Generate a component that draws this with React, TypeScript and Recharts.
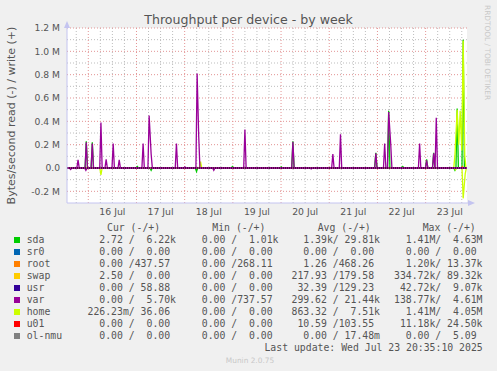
import { ComposedChart, Line, XAxis, YAxis, CartesianGrid, ReferenceLine } from 'recharts'

// time axis is hours since 16 Jul 00:00, values are in M (1e6 bytes/s)
const T_START = -10.6
const T_END = 188.6
const HALF = 0.6

const dayTicks = [12, 36, 60, 84, 108, 132, 156, 180]
const dayLabels = ['16 Jul', '17 Jul', '18 Jul', '19 Jul', '20 Jul', '21 Jul', '22 Jul', '23 Jul']
const midnights = [0, 24, 48, 72, 96, 120, 144, 168]
const yTicks = [-0.2, 0, 0.2, 0.4, 0.6, 0.8, 1.0, 1.2]
const yMinor = [-0.1, 0.1, 0.3, 0.5, 0.7, 0.9, 1.1]

// [hour, value] samples that leave the zero line
const sdaWrite: [number, number][] = [
  [-1.0, 0.23], [2.0, 0.22], [24.4, 0.012], [71.8, 0.012], [96.1, 0.01], [101.9, 0.23],
  [143.2, 0.13], [149.6, 0.49], [156.6, 0.012], [168.5, 0.075], [172.0, 0.13], [183.7, 0.51], [186.7, 1.1],
]
const sdaRead: [number, number][] = [[31.3, -0.02], [53.9, -0.03], [182.6, -0.02]]
const varWrite: [number, number][] = [
  [-5.1, 0.07], [-1.0, 0.22], [2.0, 0.21], [6.3, 0.39], [8.9, 0.075], [12.4, 0.21], [15.4, 0.07],
  [27.3, 0.21], [30.3, 0.45], [31.3, 0.12], [43.9, 0.21], [48.1, 0.01], [54.2, 0.81], [55.0, 0.27],
  [78.0, 0.33], [101.9, 0.225], [121.8, 0.12], [125.6, 0.29], [143.2, 0.125], [147.6, 0.21],
  [149.6, 0.48], [150.6, 0.21], [165.0, 0.21], [168.5, 0.065], [172.0, 0.125], [173.3, 0.43],
]
const varRead: [number, number][] = [[-8.8, -0.012], [-1.2, -0.02], [62.5, -0.02], [111.0, -0.008]]
const homeWrite: [number, number][] = [
  [55.9, 0.055], [182.6, 0.11], [183.7, 0.5], [184.5, 0.2], [185.2, 0.49], [186.0, 0.15], [186.7, 1.09], [187.5, 0.1],
]
const homeRead: [number, number][] = [[6.3, -0.06], [182.9, -0.015], [186.7, -0.26], [187.7, -0.05]]
const rootWrite: [number, number][] = [[186.3, 0.013]]

const names = ['sda', 'sr0', 'root', 'swap', 'usr', 'var', 'home', 'u01', 'ol-nmu']
const colors = ['#00CC00', '#0066B3', '#FF8000', '#FFCC00', '#330099', '#990099', '#CCFF00', '#FF0000', '#808080']
const curCol = ['  2.72 /  6.22k', '  0.00 /  0.00 ', '  0.00 /437.57 ', '  2.50 /  0.00 ', '  0.00 / 58.88 ', '  0.00 /  5.70k', '226.23m/ 36.06 ', '  0.00 /  0.00 ', '  0.00 /  0.00 ']
const minCol = ['  0.00 /  1.01k', '  0.00 /  0.00 ', '  0.00 /268.11 ', '  0.00 /  0.00 ', '  0.00 /  0.00 ', '  0.00 /737.57 ', '  0.00 /  0.00 ', '  0.00 /  0.00 ', '  0.00 /  0.00 ']
const avgCol = ['  1.39k/ 29.81k', '  0.00 /  0.00 ', '  1.26 /468.26 ', '217.93 /179.58 ', ' 32.39 /129.23 ', '299.62 / 21.44k', '863.32 /  7.51k', ' 10.59 /103.55 ', '  0.00 / 17.48m']
const maxCol = ['  1.41M/  4.63M', '  0.00 /  0.00 ', '  1.20k/ 13.37k', '334.72k/ 89.32k', ' 42.72k/  9.07k', '138.77k/  4.61M', '  1.41M/  4.05M', ' 11.18k/ 24.50k', '  0.00 /  5.09 ']
const headers = ['Cur (-/+)', 'Min (-/+)', 'Avg (-/+)', 'Max (-/+)']

function spikes(list: [number, number][]) {
  const pts: [number, number][] = [[T_START, 0]]
  list.forEach(([t, v], i) => {
    const prev = list[i - 1]
    const next = list[i + 1]
    if (!prev || t - prev[0] > 2 * HALF) pts.push([t - HALF, 0])
    pts.push([t, v])
    if (!next || next[0] - t > 2 * HALF) pts.push([t + HALF, 0])
  })
  pts.push([T_END, 0])
  return pts
}

const series = [
  { key: 'sdaW', list: sdaWrite, color: colors[0] },
  { key: 'sdaR', list: sdaRead, color: colors[0] },
  { key: 'rootW', list: rootWrite, color: colors[2] },
  { key: 'homeR', list: homeRead, color: colors[6] },
  { key: 'homeW', list: homeWrite, color: colors[6] },
  { key: 'varR', list: varRead, color: colors[5] },
  { key: 'varW', list: varWrite, color: colors[5] },
]

// one table keyed by time, each series filling only its own samples
const rows = new Map<number, Record<string, number>>()
series.forEach((s) => {
  spikes(s.list).forEach(([t, v]) => {
    const k = Math.round(t * 100) / 100
    if (!rows.has(k)) rows.set(k, { t: k })
    rows.get(k)![s.key] = v
  })
})
const tableData = [...rows.values()].sort((a, b) => a.t - b.t)

const minorX: number[] = []
for (let h = -6; h < T_END; h += 6) if (h % 24 !== 0) minorX.push(h)

const SANS = '"DejaVu Sans", sans-serif'
const MONO = '"DejaVu Sans Mono", monospace'
const TEXT = '#555'
const MINOR = '#bdbdbd'
const MAJOR = '#e39494'

const colX = [87.5, 190, 291.5, 394]
const headX = [107, 212.3, 317.7, 422.7]

export default function App() {
  return (
    <div style={{ position: 'absolute', left: 0, top: 0, width: 497, height: 371, background: '#f0f0f0', overflow: 'hidden' }}>
      <ComposedChart width={497} height={371} data={tableData} margin={{ top: 28, right: 30, bottom: 148, left: 7 }}>
        <CartesianGrid fill="#ffffff" stroke={MINOR} strokeDasharray="1 2"
          horizontalValues={yMinor} verticalValues={minorX} />
        <CartesianGrid fill="none" stroke={MAJOR} strokeDasharray="1 2"
          horizontalValues={yTicks} verticalValues={midnights} />
        <XAxis type="number" dataKey="t" domain={[T_START, T_END]} allowDataOverflow
          ticks={dayTicks} interval={0} height={20} tickSize={0} tickMargin={5}
          tickFormatter={(t) => dayLabels[dayTicks.indexOf(t)]}
          axisLine={{ stroke: '#c4c4f0' }} tick={{ fill: TEXT, fontSize: 9.3, fontFamily: SANS }} />
        <YAxis type="number" domain={[-0.3, 1.2]} allowDataOverflow ticks={yTicks} interval={0}
          width={60} tickSize={0} tickMargin={7}
          tickFormatter={(v) => (v === 0 ? '0.0' : `${v.toFixed(1)} M`)}
          axisLine={{ stroke: '#c4c4f0' }} tick={{ fill: TEXT, fontSize: 9.2, fontFamily: SANS }} />
        {series.map((s) => (
          <Line key={s.key} dataKey={s.key} type="linear" stroke={s.color} strokeWidth={1.3} connectNulls
            dot={false} activeDot={false} isAnimationActive={false} />
        ))}
        <ReferenceLine y={0} stroke="#000" strokeDasharray="1 1" />
      </ComposedChart>

      <svg width={497} height={371} style={{ position: 'absolute', left: 0, top: 0, pointerEvents: 'none' }}>
        <text x={248.5} y={24} textAnchor="middle" fontFamily={SANS} fontSize={12.6} fill={TEXT}>
          Throughput per device - by week
        </text>
        <text transform="translate(15,115.5) rotate(-90)" textAnchor="middle" fontFamily={SANS} fontSize={11} fill={TEXT}>
          Bytes/second read (-) / write (+)
        </text>
        <text transform="translate(485,5) rotate(90)" textAnchor="start" fontFamily={SANS} fontSize={7.4} fill="#c8c8c8">
          RRDTOOL / TOBI OETIKER
        </text>
        <path d="M64,28 L67,21 L70,28 Z" fill="#c4c4f0" />
        <path d="M468,200 L475,203 L468,206 Z" fill="#c4c4f0" />
        <line x1={467} y1={203} x2={469} y2={203} stroke="#c4c4f0" />
        <text x={250} y={362.5} textAnchor="middle" fontFamily={SANS} fontSize={7.4} fill="#c8c8c8">Munin 2.0.75</text>
      </svg>

      <div style={{ position: 'absolute', left: 0, top: 0, width: 497, height: 371, fontFamily: MONO, fontSize: 9.8, color: TEXT, whiteSpace: 'pre', lineHeight: '12px' }}>
        {headers.map((h, i) => (
          <div key={h} style={{ position: 'absolute', left: headX[i], top: 222 }}>{h}</div>
        ))}
        {names.map((n, i) => (
          <div key={n}>
            <div style={{ position: 'absolute', left: 14, top: 237 + 12 * i, width: 6, height: 6, background: colors[i] }} />
            <div style={{ position: 'absolute', left: 26.7, top: 234 + 12 * i }}>{n}</div>
            {[curCol, minCol, avgCol, maxCol].map((col, c) => (
              <div key={c} style={{ position: 'absolute', left: colX[c], top: 234 + 12 * i }}>{col[i]}</div>
            ))}
          </div>
        ))}
        <div style={{ position: 'absolute', right: 497 - 482.7, top: 342 }}>Last update: Wed Jul 23 20:35:10 2025</div>
      </div>
    </div>
  )
}
